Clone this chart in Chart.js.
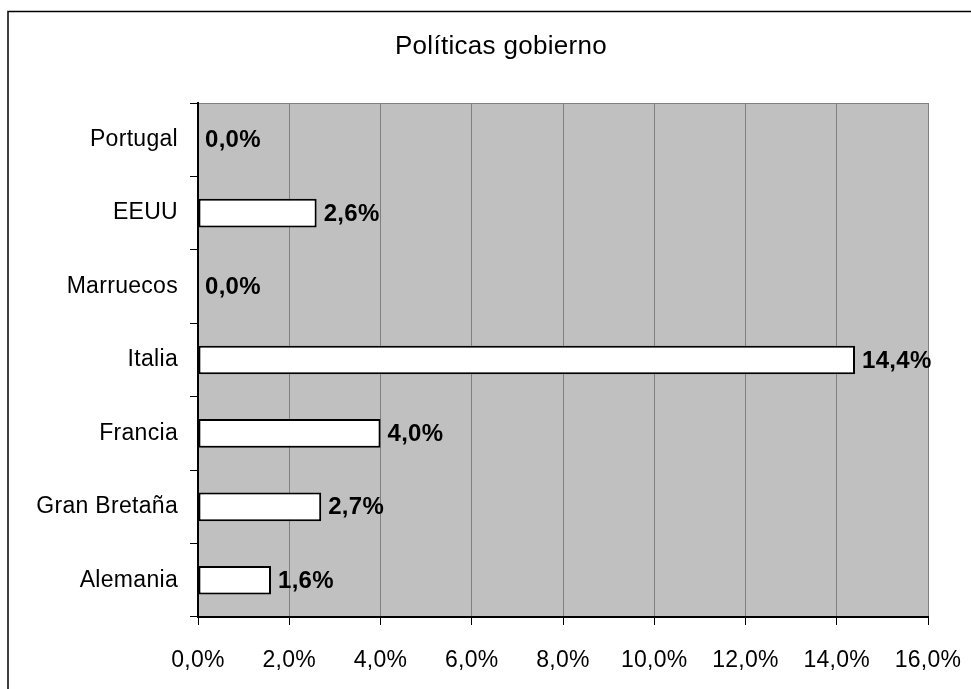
<!DOCTYPE html>
<html>
<head>
<meta charset="utf-8">
<script src="https://cdn.jsdelivr.net/npm/chart.js@4"></script>
<style>
  html, body { margin: 0; padding: 0; background: #fff; }
  #wrap { width: 971px; height: 689px; }
</style>
</head>
<body>
<div id="wrap"><canvas id="chart" width="971" height="689"></canvas></div>
<script>
// datos
const paises = ['Portugal', 'EEUU', 'Marruecos', 'Italia', 'Francia', 'Gran Bretaña', 'Alemania'];
const valores = [0.0, 2.6, 0.0, 14.4, 4.0, 2.7, 1.6];
const ejeMin = 0;
const ejeMax = 16;
const paso = 2;
const titulo = 'Políticas gobierno';

const fuente = "'Liberation Sans', Arial, sans-serif";

function pct(v) {
    return v.toFixed(1).replace('.', ',') + '%';
}

// fondo gris, marco exterior, titulo y etiquetas
const decoracion = {
    id: 'decoracion',
    beforeDraw: function (chart) {
        const ctx = chart.ctx;
        const a = chart.chartArea;
        ctx.letterSpacing = '0.3px';
        ctx.save();
        ctx.fillStyle = '#c0c0c0';
        ctx.fillRect(a.left, a.top, a.right - a.left, a.bottom - a.top);
        ctx.strokeStyle = '#000';
        ctx.lineWidth = 1.5;
        ctx.strokeRect(8, 11.5, chart.width + 20, chart.height + 20);
        ctx.strokeStyle = '#808080';
        ctx.lineWidth = 1;
        ctx.strokeRect(a.left + 0.5, a.top + 0.5, a.right - a.left, a.bottom - a.top);
        ctx.fillStyle = '#000';
        ctx.font = '26px ' + fuente;
        ctx.textAlign = 'center';
        ctx.textBaseline = 'middle';
        ctx.fillText(titulo, 501, 47);
        ctx.restore();
    },
    afterDatasetsDraw: function (chart) {
        const ctx = chart.ctx;
        const meta = chart.getDatasetMeta(0);
        ctx.save();
        ctx.fillStyle = '#000';
        ctx.font = 'bold 24px ' + fuente;
        ctx.textAlign = 'left';
        ctx.textBaseline = 'middle';
        meta.data.forEach(function (bar, i) {
            ctx.fillText(pct(valores[i]), bar.x + 7, bar.y + 1);
        });
        ctx.restore();
    }
};

Chart.defaults.color = '#000';
Chart.defaults.font.family = fuente;
Chart.defaults.font.size = 23;

new Chart(document.getElementById('chart'), {
    type: 'bar',
    data: {
        labels: paises,
        datasets: [{
            data: valores,
            backgroundColor: '#ffffff',
            borderColor: '#000000',
            borderWidth: 2,
            borderSkipped: false,
            barPercentage: 0.39,
            categoryPercentage: 1
        }]
    },
    options: {
        indexAxis: 'y',
        responsive: false,
        animation: false,
        layout: { padding: { top: 103, right: 43, left: 0, bottom: 0 } },
        plugins: {
            legend: { display: false },
            title: { display: false },
            tooltip: { enabled: false }
        },
        scales: {
            x: {
                min: ejeMin,
                max: ejeMax,
                ticks: {
                    stepSize: paso,
                    padding: 22,
                    callback: function (v) { return pct(v); }
                },
                grid: {
                    color: '#808080',
                    tickColor: '#000',
                    tickLength: 8,
                    lineWidth: 1
                },
                border: { color: '#000', width: 2 },
                afterFit: function (s) {
                    s.height = 72;
                    s.paddingLeft = 0;
                    s.paddingRight = 0;
                }
            },
            y: {
                ticks: { padding: 12 },
                grid: {
                    offset: true,
                    drawOnChartArea: false,
                    tickColor: '#000',
                    tickLength: 8
                },
                border: { color: '#000', width: 2 },
                afterFit: function (s) {
                    s.width = 198;
                    s.paddingTop = 0;
                    s.paddingBottom = 0;
                }
            }
        }
    },
    plugins: [decoracion]
});
</script>
</body>
</html>
